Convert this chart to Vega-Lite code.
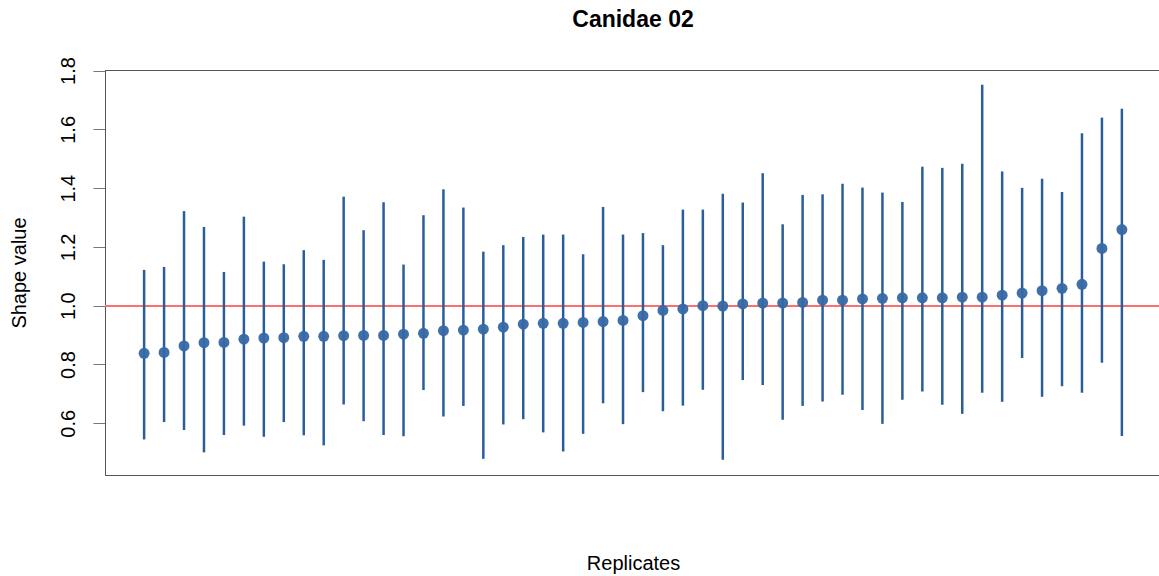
{
  "$schema": "https://vega.github.io/schema/vega-lite/v6.json",
  "width": 1056,
  "height": 405,
  "autosize": "none",
  "padding": {"left": 105, "top": 70, "right": 0, "bottom": 101},
  "background": "white",
  "config": {
    "font": "Liberation Sans",
    "view": {"stroke": "#555555", "strokeWidth": 1},
    "axis": {"grid": false}
  },
  "title": {
    "text": "Canidae 02",
    "fontSize": 23,
    "fontWeight": "bold",
    "font": "Liberation Sans",
    "color": "#000000",
    "anchor": "middle",
    "offset": 25
  },
  "data": {
    "values": [
      {"rep": 1, "shape": 0.838, "lo": 0.545, "hi": 1.122},
      {"rep": 2, "shape": 0.841, "lo": 0.604, "hi": 1.132},
      {"rep": 3, "shape": 0.863, "lo": 0.577, "hi": 1.322},
      {"rep": 4, "shape": 0.874, "lo": 0.501, "hi": 1.268},
      {"rep": 5, "shape": 0.875, "lo": 0.560, "hi": 1.115},
      {"rep": 6, "shape": 0.886, "lo": 0.592, "hi": 1.303},
      {"rep": 7, "shape": 0.890, "lo": 0.554, "hi": 1.150},
      {"rep": 8, "shape": 0.891, "lo": 0.604, "hi": 1.141},
      {"rep": 9, "shape": 0.896, "lo": 0.559, "hi": 1.189},
      {"rep": 10, "shape": 0.896, "lo": 0.525, "hi": 1.156},
      {"rep": 11, "shape": 0.898, "lo": 0.664, "hi": 1.371},
      {"rep": 12, "shape": 0.899, "lo": 0.607, "hi": 1.257},
      {"rep": 13, "shape": 0.899, "lo": 0.560, "hi": 1.352},
      {"rep": 14, "shape": 0.903, "lo": 0.556, "hi": 1.140},
      {"rep": 15, "shape": 0.906, "lo": 0.713, "hi": 1.308},
      {"rep": 16, "shape": 0.915, "lo": 0.623, "hi": 1.396},
      {"rep": 17, "shape": 0.917, "lo": 0.659, "hi": 1.334},
      {"rep": 18, "shape": 0.920, "lo": 0.479, "hi": 1.184},
      {"rep": 19, "shape": 0.927, "lo": 0.596, "hi": 1.206},
      {"rep": 20, "shape": 0.937, "lo": 0.614, "hi": 1.234},
      {"rep": 21, "shape": 0.940, "lo": 0.569, "hi": 1.242},
      {"rep": 22, "shape": 0.940, "lo": 0.504, "hi": 1.242},
      {"rep": 23, "shape": 0.943, "lo": 0.564, "hi": 1.175},
      {"rep": 24, "shape": 0.946, "lo": 0.668, "hi": 1.336},
      {"rep": 25, "shape": 0.950, "lo": 0.597, "hi": 1.242},
      {"rep": 26, "shape": 0.966, "lo": 0.706, "hi": 1.247},
      {"rep": 27, "shape": 0.984, "lo": 0.641, "hi": 1.206},
      {"rep": 28, "shape": 0.989, "lo": 0.660, "hi": 1.327},
      {"rep": 29, "shape": 1.000, "lo": 0.714, "hi": 1.327},
      {"rep": 30, "shape": 0.999, "lo": 0.476, "hi": 1.381},
      {"rep": 31, "shape": 1.006, "lo": 0.747, "hi": 1.351},
      {"rep": 32, "shape": 1.009, "lo": 0.730, "hi": 1.451},
      {"rep": 33, "shape": 1.009, "lo": 0.612, "hi": 1.277},
      {"rep": 34, "shape": 1.011, "lo": 0.659, "hi": 1.377},
      {"rep": 35, "shape": 1.019, "lo": 0.674, "hi": 1.379},
      {"rep": 36, "shape": 1.019, "lo": 0.697, "hi": 1.415},
      {"rep": 37, "shape": 1.023, "lo": 0.645, "hi": 1.402},
      {"rep": 38, "shape": 1.025, "lo": 0.598, "hi": 1.385},
      {"rep": 39, "shape": 1.027, "lo": 0.680, "hi": 1.353},
      {"rep": 40, "shape": 1.027, "lo": 0.708, "hi": 1.473},
      {"rep": 41, "shape": 1.027, "lo": 0.663, "hi": 1.469},
      {"rep": 42, "shape": 1.029, "lo": 0.632, "hi": 1.483},
      {"rep": 43, "shape": 1.029, "lo": 0.704, "hi": 1.752},
      {"rep": 44, "shape": 1.036, "lo": 0.673, "hi": 1.457},
      {"rep": 45, "shape": 1.043, "lo": 0.822, "hi": 1.401},
      {"rep": 46, "shape": 1.051, "lo": 0.690, "hi": 1.432},
      {"rep": 47, "shape": 1.059, "lo": 0.726, "hi": 1.387},
      {"rep": 48, "shape": 1.073, "lo": 0.704, "hi": 1.587},
      {"rep": 49, "shape": 1.195, "lo": 0.806, "hi": 1.640},
      {"rep": 50, "shape": 1.259, "lo": 0.557, "hi": 1.670}
    ]
  },
  "layer": [
    {
      "mark": {"type": "rule", "color": "#ff6f6f", "strokeWidth": 1.6},
      "encoding": {
        "y": {"datum": 1, "type": "quantitative", "scale": {"domain": [0.424, 1.802], "nice": false, "zero": false}}
      }
    },
    {
      "mark": {"type": "rule", "color": "#2a5e9b", "strokeWidth": 2.5},
      "encoding": {
        "x": {"field": "rep", "type": "quantitative", "scale": {"domain": [-0.96, 51.96], "nice": false, "zero": false},
              "axis": {"title": "Replicates", "labels": false, "ticks": false, "domain": false, "titleFontSize": 20, "titleFontWeight": "normal", "titleColor": "#000000", "titlePadding": 78}},
        "y": {"field": "lo", "type": "quantitative", "scale": {"domain": [0.424, 1.802], "nice": false, "zero": false},
              "axis": {"title": "Shape value", "values": [0.6, 0.8, 1.0, 1.2, 1.4, 1.6, 1.8], "format": ".1f", "labelAngle": 270, "labelAlign": "center", "labelBaseline": "bottom", "labelFontSize": 20, "labelColor": "#000000", "labelPadding": 15, "tickSize": 12, "tickColor": "#777777", "domainColor": "#555555", "titleFontSize": 20, "titleFontWeight": "normal", "titleColor": "#000000", "titlePadding": 29}},
        "y2": {"field": "hi"}
      }
    },
    {
      "mark": {"type": "circle", "color": "#3668a5", "opacity": 0.95, "size": 120},
      "encoding": {
        "x": {"field": "rep", "type": "quantitative"},
        "y": {"field": "shape", "type": "quantitative"}
      }
    }
  ]
}
